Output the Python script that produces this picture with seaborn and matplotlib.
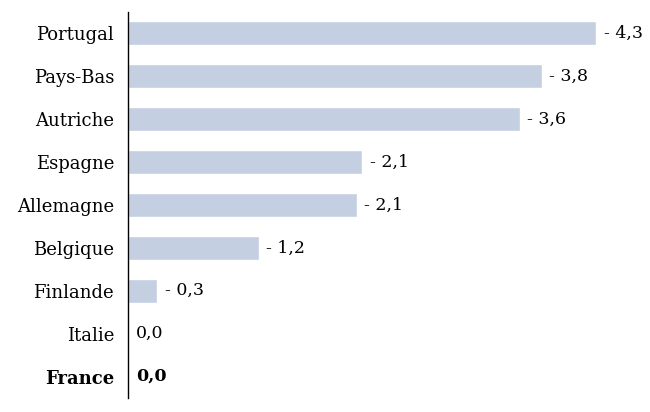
import matplotlib
matplotlib.use("Agg")
import matplotlib.pyplot as plt
import seaborn as sns
import pandas as pd

# data
countries = ["Portugal", "Pays-Bas", "Autriche", "Espagne", "Allemagne",
             "Belgique", "Finlande", "Italie", "France"]
values = [4.3, 3.8, 3.6, 2.15, 2.1, 1.2, 0.27, 0.0, 0.0]
labels = ["- 4,3", "- 3,8", "- 3,6", "- 2,1", "- 2,1", "- 1,2", "- 0,3", "0,0", "0,0"]

df = pd.DataFrame({"pays": countries, "val": values})

sns.set_style("white")
plt.rcParams["font.family"] = ["DejaVu Serif"]
plt.rcParams["text.color"] = "black"
plt.rcParams["ytick.color"] = "black"

fig = plt.figure(figsize=(6.5, 4.12), dpi=100)
ax = fig.add_axes([0.197, 0.034, 0.787, 0.937])

sns.barplot(data=df, x="val", y="pays", color="#c4cfe1", saturation=1,
            width=0.56, ax=ax)

for i, (v, lab) in enumerate(zip(values, labels)):
    bold = countries[i] == "France"
    ax.text(v + 0.07, i, lab, va="center", ha="left", fontsize=12.5,
            color="black", fontweight="bold" if bold else "normal")

ax.set_xlim(0, 4.7)
ax.set_ylim(8.5, -0.5)
ax.set_xlabel("")
ax.set_ylabel("")
ax.set_xticks([])
ax.tick_params(axis="y", length=0, pad=10, labelsize=13, labelcolor="black")
for t in ax.get_yticklabels():
    if t.get_text() == "France":
        t.set_fontweight("bold")

for s in ["top", "right", "bottom"]:
    ax.spines[s].set_visible(False)
ax.spines["left"].set_color("black")
ax.spines["left"].set_linewidth(1)

fig.savefig("out.png", dpi=100)
